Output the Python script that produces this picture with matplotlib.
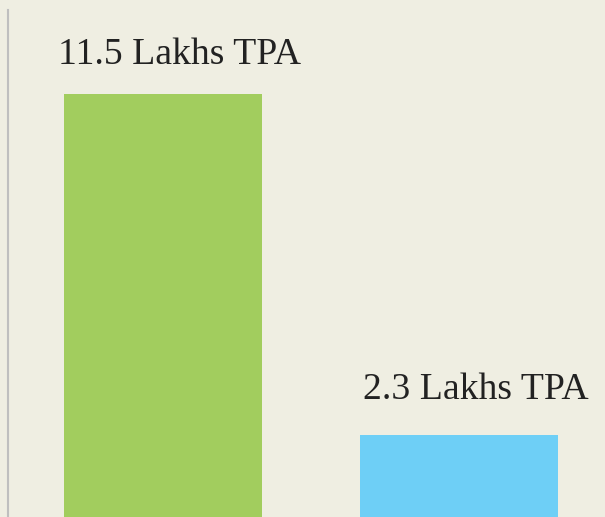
import matplotlib.pyplot as plt

categories = ['Plant A', 'Plant B']
capacity = [11.5, 2.3]
labels = ['11.5 Lakhs TPA', '2.3 Lakhs TPA']
colors = ['#A2CD5E', '#6ECFF6']

bg = '#EFEEE2'

fig = plt.figure(figsize=(6.05, 5.17), dpi=100, facecolor=bg)
# axes left edge is the grey line, baseline sits just below the picture
ax = fig.add_axes([8 / 605, -3 / 517, 597 / 605, 510 / 517])
ax.set_facecolor(bg)

x = range(len(categories))
bars = ax.bar(x, capacity, width=198 / 296, color=colors)

for bar, text, dy in zip(bars, labels, [30, 36]):
    ax.annotate(text, (bar.get_x() + bar.get_width() / 2, bar.get_height()),
                xytext=(17 * 0.72, dy * 0.72), textcoords='offset points',
                ha='center', va='baseline', fontsize=27.2,
                family='Liberation Serif', color='#222222')

ax.set_xlim(-(163 - 8) / 296, 1 + (605 - 459) / 296)
ax.set_ylim(0, 510 / (426 / 11.5))

for side in ['top', 'right', 'bottom']:
    ax.spines[side].set_visible(False)
ax.spines['left'].set_color('#BFBFBF')
ax.spines['left'].set_linewidth(1.5)
ax.set_xticks([])
ax.set_yticks([])

fig.savefig('out.png', dpi=100, facecolor=bg)
